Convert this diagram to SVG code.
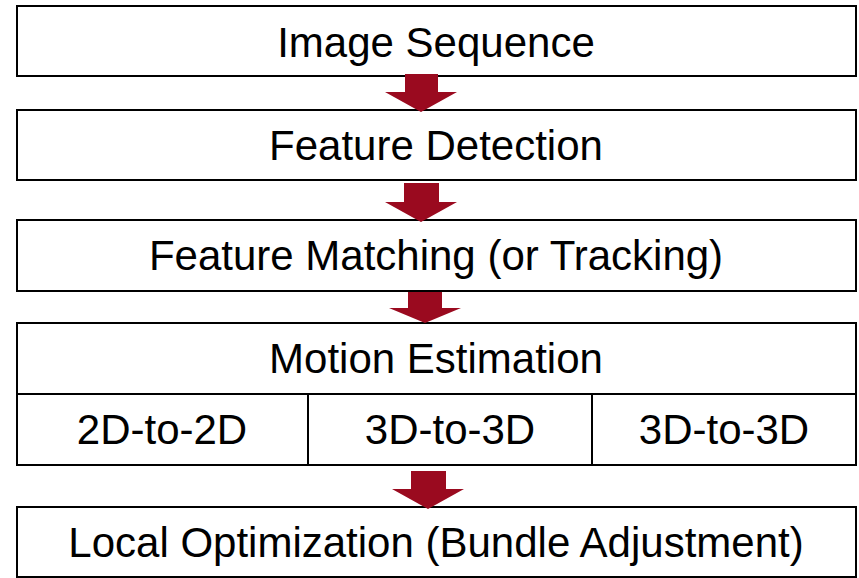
<svg xmlns="http://www.w3.org/2000/svg" width="859" height="578" viewBox="0 0 859 578">
<style>
.box{fill:#fff;stroke:#000;stroke-width:2}
.ln{stroke:#000;stroke-width:2;fill:none}
.t{font-family:"Liberation Sans",Arial,Helvetica,sans-serif;font-size:42px;fill:#000;text-anchor:middle}
.arr{fill:#9A0A1F}
</style>
<rect x="0" y="0" width="859" height="578" fill="#fff"/>
<g id="n1"><rect class="box" x="17" y="6" width="839" height="70"/><text class="t" x="436" y="57">Image Sequence</text></g>
<g id="n2"><rect class="box" x="17" y="110" width="839" height="70"/><text class="t" x="436" y="160">Feature Detection</text></g>
<g id="n3"><rect class="box" x="17" y="220" width="839" height="71"/><text class="t" x="436" y="270">Feature Matching (or Tracking)</text></g>
<g id="n4"><rect class="box" x="17" y="323" width="839" height="142"/><line class="ln" x1="17" y1="394" x2="856" y2="394"/><line class="ln" x1="308" y1="394" x2="308" y2="465"/><line class="ln" x1="592" y1="394" x2="592" y2="465"/><text class="t" x="436" y="373">Motion Estimation</text><text class="t" x="162" y="444">2D-to-2D</text><text class="t" x="450" y="444">3D-to-3D</text><text class="t" x="724" y="444">3D-to-3D</text></g>
<g id="n5"><rect class="box" x="17" y="507" width="839" height="70"/><text class="t" x="436" y="557">Local Optimization (Bundle Adjustment)</text></g>
<g id="connectors">
<polygon class="arr" points="405,74 438,74 438,92 457,92 421,112 385,92 405,92"/>
<polygon class="arr" points="404,183 439,183 439,202 457,202 421,222 385,202 404,202"/>
<polygon class="arr" points="408,292 442,292 442,308 461,308 425,323 389,308 408,308"/>
<polygon class="arr" points="411,471 446,471 446,489 464,489 428,509 392,489 411,489"/>
</g>
</svg>
